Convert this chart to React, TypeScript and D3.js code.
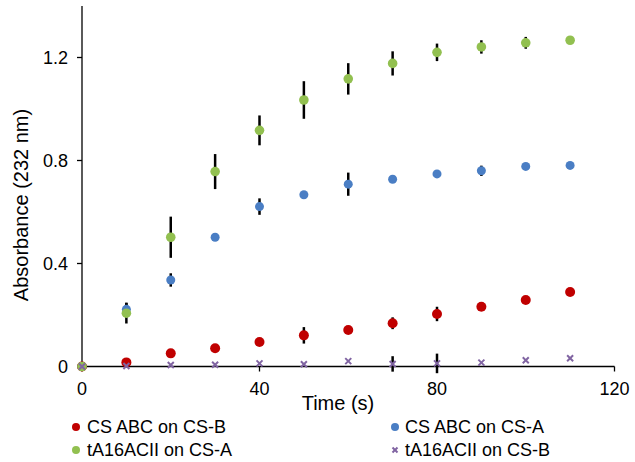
import React from "react";
import * as d3 from "d3";

const times = [0, 10, 20, 30, 40, 50, 60, 70, 80, 90, 100, 110];

const seriesNames = ["CS ABC on CS-B", "CS ABC on CS-A", "tA16ACII on CS-A", "tA16ACII on CS-B"];
const seriesColors = ["#C00000", "#4A7EC4", "#92C050", "#8064A2"];

const csAbcOnB = [0, 0.016, 0.051, 0.071, 0.095, 0.121, 0.142, 0.168, 0.204, 0.232, 0.258, 0.289];
const csAbcOnBErr = [0, 0.01, 0.01, 0.01, 0.01, 0.032, 0.01, 0.023, 0.028, 0.01, 0.01, 0.008];

const csAbcOnA = [0, 0.222, 0.336, 0.502, 0.621, 0.667, 0.708, 0.727, 0.748, 0.76, 0.777, 0.781];
const csAbcOnAErr = [0, 0.026, 0.026, 0.01, 0.032, 0.008, 0.045, 0.008, 0.01, 0.02, 0.01, 0.008];

const tA16OnA = [0, 0.207, 0.502, 0.757, 0.917, 1.035, 1.117, 1.177, 1.22, 1.241, 1.257, 1.267];
const tA16OnAErr = [0, 0.04, 0.08, 0.068, 0.058, 0.073, 0.061, 0.047, 0.034, 0.026, 0.023, 0.012];

const tA16OnB = [0, 0.002, 0.006, 0.007, 0.012, 0.009, 0.021, 0.01, 0.012, 0.015, 0.024, 0.032];
const tA16OnBErr = [0, 0, 0, 0, 0, 0, 0, 0.03, 0.038, 0, 0, 0];

const xTicks = [0, 40, 80, 120];
const yTicks = [0, 0.4, 0.8, 1.2];
const yTickLabels = ["0", "0.4", "0.8", "1.2"];

const xTitle = "Time (s)";
const yTitle = "Absorbance (232 nm)";

const FONT = "'Liberation Sans', Arial, sans-serif";

export default function App() {
  const W = 635, H = 462;
  const x = d3.scaleLinear().domain([0, 120]).range([82, 614.5]);
  const y = d3.scaleLinear().domain([0, 1.4]).range([366.5, 6]);

  const series = [
    { name: seriesNames[0], color: seriesColors[0], vals: csAbcOnB, err: csAbcOnBErr, shape: "circle", r: 5 },
    { name: seriesNames[1], color: seriesColors[1], vals: csAbcOnA, err: csAbcOnAErr, shape: "circle", r: 4.5 },
    { name: seriesNames[2], color: seriesColors[2], vals: tA16OnA, err: tA16OnAErr, shape: "circle", r: 4.8 },
    { name: seriesNames[3], color: seriesColors[3], vals: tA16OnB, err: tA16OnBErr, shape: "x", r: 3 },
  ];

  const legendPos = [
    { mx: 76, tx: 87, by: 433 },
    { mx: 395, tx: 405, by: 433 },
    { mx: 76, tx: 87, by: 456 },
    { mx: 395, tx: 405, by: 456 },
  ];

  const marker = (s: any, cx: number, cy: number, r: number, key: string) =>
    s.shape === "circle" ? (
      <circle key={key} cx={cx} cy={cy} r={r} fill={s.color} />
    ) : (
      <g key={key} stroke={s.color} strokeWidth={2}>
        <line x1={cx - r} y1={cy - r} x2={cx + r} y2={cy + r} />
        <line x1={cx - r} y1={cy + r} x2={cx + r} y2={cy - r} />
      </g>
    );

  return (
    <svg width={W} height={H} style={{ position: "absolute", left: 0, top: 0, background: "#fff" }} fontFamily={FONT}>
      <rect width={W} height={H} fill="#fff" />
      {/* axes */}
      <line x1={x(0)} y1={y(1.4)} x2={x(0)} y2={y(0)} stroke="#000" strokeWidth={1.3} />
      <line x1={x(0)} y1={y(0)} x2={x(120)} y2={y(0)} stroke="#000" strokeWidth={1.3} />
      {yTicks.map((t, i) => (
        <g key={"yt" + i}>
          <line x1={x(0) - 5} x2={x(0)} y1={y(t)} y2={y(t)} stroke="#000" strokeWidth={1.3} />
          <text x={68} y={y(t) + 6.5} textAnchor="end" fontSize={18} fill="#000">{yTickLabels[i]}</text>
        </g>
      ))}
      {xTicks.map((t, i) => (
        <g key={"xt" + i}>
          <line x1={x(t)} x2={x(t)} y1={y(0)} y2={y(0) + 5} stroke="#000" strokeWidth={1.3} />
          <text x={x(t)} y={395} textAnchor="middle" fontSize={18} fill="#000">{String(t)}</text>
        </g>
      ))}
      <text x={338} y={410} textAnchor="middle" fontSize={20} fill="#000">{xTitle}</text>
      <text transform={`translate(28,205) rotate(-90)`} textAnchor="middle" fontSize={20} fill="#000">{yTitle}</text>

      {/* error bars */}
      {series.map((s, si) => (
        <g key={"e" + si} stroke="#000" strokeWidth={2.5}>
          {s.vals.map((v, i) =>
            s.err[i] > 0 ? (
              <line key={i} x1={x(times[i])} x2={x(times[i])} y1={y(v + s.err[i])} y2={y(v - s.err[i])} />
            ) : null
          )}
        </g>
      ))}
      {/* markers */}
      {series.map((s, si) => (
        <g key={"m" + si}>
          {s.vals.map((v, i) => marker(s, x(times[i]), y(v), s.r, "p" + i))}
        </g>
      ))}

      {/* legend */}
      {series.map((s, si) => {
        const p = legendPos[si];
        return (
          <g key={"l" + si}>
            {marker(s, p.mx, p.by - 6, s.shape === "circle" ? 4 : 2.5, "lm")}
            <text x={p.tx} y={p.by} fontSize={18} fill="#000">{s.name}</text>
          </g>
        );
      })}
    </svg>
  );
}
